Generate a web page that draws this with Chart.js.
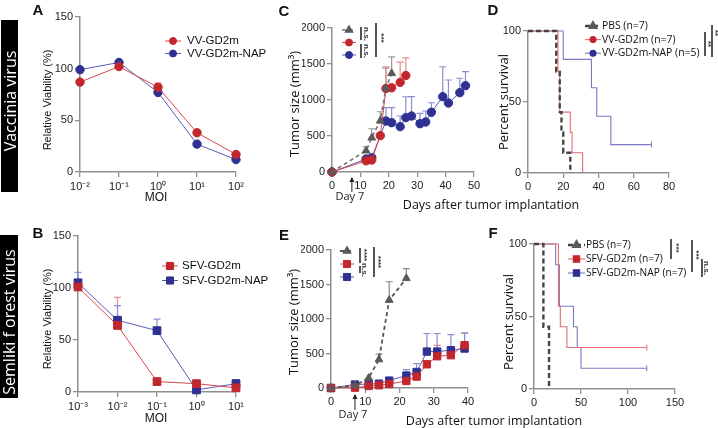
<!DOCTYPE html>
<html>
<head>
<meta charset="utf-8">
<script src="https://cdn.jsdelivr.net/npm/chart.js@4.4.1/dist/chart.umd.min.js"></script>
<style>
body{margin:0;background:#fff;width:718px;height:428px;position:relative;overflow:hidden;font-family:'Liberation Sans',Arial,sans-serif;color:#111;}
canvas{position:absolute;left:0;top:0;}
.t{position:absolute;white-space:nowrap;transform:translate(-50%,-50%);line-height:1;}
.up{transform:translate(-50%,-50%) rotate(-90deg);}
.down{transform:translate(-50%,-50%) rotate(90deg);}
.letter{font-weight:bold;font-size:15px;}
.myr{font-family:'Open Sans',sans-serif;}
.box{position:absolute;background:#000;}
.bar{position:absolute;width:1.5px;background:#555;}
.sig{font-size:8px;font-weight:bold;color:#333;}
</style>
</head>
<body>
<script>
'use strict';

// ---- data ----
// panel A, viability vs MOI (vaccinia)
const moiA = [0.01, 0.1, 1, 10, 100];
const vvA = [87, 102, 82, 38, 17];
const vvErrA = [0, 0, 4, 0, 0];
const vvNapA = [99, 106, 77, 27, 12];
const vvNapErrA = [0, 0, 0, 0, 0];

// panel B, viability vs MOI (SFV)
const moiB = [0.001, 0.01, 0.1, 1, 10];
const sfvB = [101, 64, 10, 8, 4];
const sfvErrB = [7, 27, 0, 0, 0];
const sfvNapB = [105, 69, 59, 2, 8];
const sfvNapErrB = [10, 14, 11, 0, 4];

// panel C, tumor size (vaccinia)
const pbsDaysC = [0, 12, 14, 17, 19, 21];
const pbsC = [0, 296, 476, 712, 1162, 1370];
const pbsErrC = [0, 55, 125, 125, 280, 230];
const vvDaysC = [0, 12, 14, 17, 19, 21, 24, 26];
const vvC = [0, 155, 167, 505, 1160, 1170, 1245, 1340];
const vvErrC = [0, 20, 20, 40, 300, 0, 280, 245];
const napDaysC = [0, 12, 14, 19, 21, 24, 26, 28, 31, 33, 35, 39, 41, 45, 47];
const napC = [0, 180, 200, 708, 685, 630, 755, 778, 671, 695, 830, 1046, 958, 1102, 1199];
const napErrC = [0, 30, 30, 185, 208, 148, 290, 268, 144, 152, 132, 416, 320, 200, 194];

// panel D, survival (vaccinia)
const pbsTimeD = [0, 16, 18, 19, 20, 24];
const pbsSurvD = [100, 71.4, 42.9, 28.6, 14.3, 0];
const vvTimeD = [0, 17, 18, 24, 25, 31];
const vvSurvD = [100, 71.4, 42.9, 28.6, 14.3, 0];
const napTimeD = [0, 20, 36, 39, 47, 70];
const napSurvD = [100, 80, 60, 40, 20, 20];

// panel E, tumor size (SFV)
const pbsDaysE = [0, 7, 11, 14, 17, 22];
const pbsE = [0, 35, 145, 412, 1274, 1589];
const pbsErrE = [0, 0, 0, 78, 266, 141];
const sfvDaysE = [0, 7, 11, 14, 17, 22, 25, 28, 31, 35, 39];
const sfvE = [0, 5, 30, 40, 58, 102, 165, 344, 460, 475, 620];
const sfvErrE = [0, 0, 0, 0, 0, 0, 0, 0, 158, 0, 170];
const napDaysE = [0, 7, 11, 14, 17, 22, 25, 28, 31, 35, 39];
const napE = [0, 50, 58, 63, 107, 180, 232, 528, 528, 548, 572];
const napErrE = [0, 0, 0, 0, 0, 87, 122, 262, 262, 227, 228];

// panel F, survival (SFV)
const pbsTimeF = [0, 10, 16];
const pbsSurvF = [100, 42.9, 0];
const sfvTimeF = [0, 26, 28, 35, 120];
const sfvSurvF = [100, 57.1, 42.9, 28.6, 28.6];
const napTimeF = [0, 23, 27, 42, 46, 50, 120];
const napSurvF = [100, 85.7, 57.1, 42.9, 28.6, 14.3, 14.3];

// ---- colours ----
const redDot = '#c1272d';
const redLine = '#d8474d';
const redErr = '#e98b8f';
const blueDot = '#2e3192';
const blueLine = '#5b5bb6';
const blueErr = '#8d8dd2';
const grey = '#5a5a5a';
const axisColor = '#8f8f8f';
const kmRed = '#e46c6e';
const kmBlue = '#7a7ac6';

const tickFont = {family: "'Liberation Sans', Arial, sans-serif", size: 11};

function pts(xs, ys) {
  return xs.map((x, i) => ({x: x, y: ys[i]}));
}

const supMap = {'-': '\u207B', '0': '\u2070', '1': '\u00B9', '2': '\u00B2', '3': '\u00B3'};
function powLabel(v) {
  const e = Math.round(Math.log10(v));
  return '10' + String(e).split('').map(c => supMap[c]).join('');
}

// draws the upward error bars under the markers
const errorBars = {
  id: 'errorBars',
  beforeDatasetsDraw(chart) {
    const ctx = chart.ctx;
    const ys = chart.scales.y;
    chart.data.datasets.forEach((ds, i) => {
      if (!ds.errorBars) return;
      const meta = chart.getDatasetMeta(i);
      ctx.save();
      ctx.strokeStyle = ds.errorColor;
      ctx.lineWidth = 1.2;
      meta.data.forEach((p, j) => {
        const e = ds.errorBars[j];
        if (!e) return;
        const top = ys.getPixelForValue(ds.data[j].y + e);
        ctx.beginPath();
        ctx.moveTo(p.x, p.y);
        ctx.lineTo(p.x, top);
        ctx.moveTo(p.x - 3.5, top);
        ctx.lineTo(p.x + 3.5, top);
        ctx.stroke();
      });
      ctx.restore();
    });
  }
};

// small legend drawn next to the plot
const miniKey = {
  id: 'miniKey',
  afterDatasetsDraw(chart, args, opts) {
    if (!opts.rows) return;
    const ctx = chart.ctx;
    opts.rows.forEach((row, k) => {
      const ds = chart.data.datasets[row.ds];
      const y = opts.y + k * opts.gap;
      ctx.save();
      ctx.strokeStyle = ds.borderColor;
      ctx.lineWidth = ds.borderWidth;
      ctx.setLineDash(ds.borderDash || []);
      ctx.beginPath();
      ctx.moveTo(opts.x, y);
      ctx.lineTo(opts.x + opts.len, y);
      ctx.stroke();
      ctx.setLineDash([]);
      ctx.fillStyle = row.mark;
      ctx.strokeStyle = row.mark;
      Chart.helpers.drawPoint(ctx, {pointStyle: row.style, radius: row.r, rotation: 0, borderWidth: 1},
        opts.x + opts.len / 2, y);
      if (row.text) {
        ctx.fillStyle = '#111';
        ctx.font = opts.font;
        ctx.textBaseline = 'middle';
        ctx.fillText(row.text, opts.x + opts.len + opts.pad, y);
      }
      ctx.restore();
    });
  }
};

// "Day 7" arrow under the x axis
const dayArrow = {
  id: 'dayArrow',
  afterDraw(chart, args, opts) {
    if (opts.day === undefined) return;
    const ctx = chart.ctx;
    const x = chart.scales.x.getPixelForValue(opts.day);
    const b = chart.chartArea.bottom;
    ctx.save();
    ctx.strokeStyle = '#222';
    ctx.fillStyle = '#222';
    ctx.lineWidth = 1;
    ctx.beginPath();
    ctx.moveTo(x, b + opts.from);
    ctx.lineTo(x, b + opts.to);
    ctx.stroke();
    ctx.beginPath();
    ctx.moveTo(x, b + opts.from - 1);
    ctx.lineTo(x - 2.5, b + opts.from + 4);
    ctx.lineTo(x + 2.5, b + opts.from + 4);
    ctx.closePath();
    ctx.fill();
    ctx.font = "11px 'Open Sans', sans-serif";
    ctx.textAlign = 'center';
    ctx.textBaseline = 'middle';
    ctx.fillText('Day 7', x - 2, b + opts.label);
    ctx.restore();
  }
};

function linAxis(min, max, step, isY) {
  return {
    type: 'linear', min: min, max: max,
    ticks: {stepSize: step, color: '#222', font: tickFont, padding: 2, autoSkip: false, maxRotation: 0,
      callback: v => String(v)},
    grid: {drawOnChartArea: false, tickLength: 5, color: axisColor, lineWidth: 1.3},
    border: {color: axisColor, width: 1.5},
    afterFit: isY ? (s => { s.width = 30; }) : (s => { s.height = 20; })
  };
}

function logAxis(vals) {
  const a = linAxis(vals[0], vals[vals.length - 1], 1, false);
  a.type = 'logarithmic';
  a.ticks = {color: '#222', font: tickFont, padding: 3, autoSkip: false, maxRotation: 0, callback: v => powLabel(v)};
  a.afterBuildTicks = s => { s.ticks = vals.map(v => ({value: v})); };
  return a;
}

function lineSet(xs, ys, o) {
  return Object.assign({
    data: pts(xs, ys), showLine: true, fill: false, clip: false,
    borderWidth: 1, pointBorderWidth: 1, tension: 0
  }, o);
}

function makeChart(pad, datasets, x, y, plugins) {
  const c = document.createElement('canvas');
  c.width = 718;
  c.height = 428;
  document.body.appendChild(c);
  return new Chart(c, {
    type: 'scatter',
    data: {datasets: datasets},
    options: {
      responsive: false, animation: false, devicePixelRatio: 1,
      layout: {padding: pad},
      scales: {x: x, y: y},
      plugins: Object.assign({legend: {display: false}, tooltip: {enabled: false}}, plugins)
    },
    plugins: [errorBars, miniKey, dayArrow]
  });
}

// panel A
makeChart({left: 50, right: 482, top: 17, bottom: 236}, [
  lineSet(moiA, vvA, {borderColor: redLine, pointBackgroundColor: redDot, pointBorderColor: redDot, pointRadius: 4.2, errorBars: vvErrA, errorColor: redErr}),
  lineSet(moiA, vvNapA, {borderColor: blueLine, pointBackgroundColor: blueDot, pointBorderColor: blueDot, pointRadius: 4.2, errorBars: vvNapErrA, errorColor: blueErr})
], logAxis(moiA), linAxis(0, 150, 50, true), {
  miniKey: {x: 165, y: 41, gap: 12.5, len: 16, pad: 6, font: "11.5px 'Liberation Sans', Arial, sans-serif",
    rows: [{ds: 0, mark: redDot, style: 'circle', r: 3.5, text: 'VV-GD2m'}, {ds: 1, mark: blueDot, style: 'circle', r: 3.5, text: 'VV-GD2m-NAP'}]}
});

// panel B
makeChart({left: 48, right: 482, top: 236, bottom: 16}, [
  lineSet(moiB, sfvB, {borderColor: redLine, pointBackgroundColor: redDot, pointBorderColor: redDot, pointStyle: 'rect', pointRadius: 5.5, errorBars: sfvErrB, errorColor: redErr}),
  lineSet(moiB, sfvNapB, {borderColor: blueLine, pointBackgroundColor: blueDot, pointBorderColor: blueDot, pointStyle: 'rect', pointRadius: 5.5, errorBars: sfvNapErrB, errorColor: blueErr})
], logAxis(moiB), linAxis(0, 150, 50, true), {
  miniKey: {x: 162, y: 266, gap: 14.5, len: 16, pad: 4, font: "11.5px 'Liberation Sans', Arial, sans-serif",
    rows: [{ds: 0, mark: redDot, style: 'rect', r: 5, text: 'SFV-GD2m'}, {ds: 1, mark: blueDot, style: 'rect', r: 5, text: 'SFV-GD2m-NAP'}]}
});

// panel C
makeChart({left: 302, right: 244, top: 28, bottom: 236}, [
  lineSet(pbsDaysC, pbsC, {borderColor: '#777', borderDash: [4, 3], borderWidth: 1.6, pointBackgroundColor: grey, pointBorderColor: grey, pointStyle: 'triangle', pointRadius: 4.5, errorBars: pbsErrC, errorColor: '#999'}),
  lineSet(vvDaysC, vvC, {borderColor: redLine, pointBackgroundColor: redDot, pointBorderColor: redDot, pointRadius: 4.2, errorBars: vvErrC, errorColor: redErr}),
  lineSet(napDaysC, napC, {borderColor: blueLine, pointBackgroundColor: blueDot, pointBorderColor: blueDot, pointRadius: 4.2, errorBars: napErrC, errorColor: blueErr})
], linAxis(0, 50, 10, false), linAxis(0, 2000, 500, true), {
  miniKey: {x: 342, y: 30, gap: 12.5, len: 14, pad: 4, font: '11px sans-serif',
    rows: [{ds: 0, mark: grey, style: 'triangle', r: 3.8}, {ds: 1, mark: redDot, style: 'circle', r: 3.5}, {ds: 2, mark: blueDot, style: 'circle', r: 3.5}]},
  dayArrow: {day: 7, from: 6, to: 20, label: 25}
});

// panel D
makeChart({left: 498, right: 49, top: 31, bottom: 235}, [
  lineSet(pbsTimeD, pbsSurvD, {borderColor: '#444', borderDash: [5, 3], borderWidth: 2.4, stepped: 'before', pointRadius: 0}),
  lineSet(vvTimeD, vvSurvD, {borderColor: kmRed, borderWidth: 1.1, stepped: 'before', pointRadius: 0}),
  lineSet(napTimeD, napSurvD, {borderColor: kmBlue, borderWidth: 1.1, stepped: 'before', pointRadius: [0, 0, 0, 0, 0, 3], pointStyle: 'line', rotation: 90, pointBorderColor: kmBlue})
], linAxis(0, 80, 20, false), linAxis(0, 100, 50, true), {
  miniKey: {x: 585, y: 26, gap: 13.6, len: 16, pad: 1, font: "10.4px 'Open Sans', sans-serif",
    rows: [{ds: 0, mark: grey, style: 'triangle', r: 3.5, text: 'PBS (n=7)'}, {ds: 1, mark: redDot, style: 'circle', r: 3, text: 'VV-GD2m (n=7)'}, {ds: 2, mark: blueDot, style: 'circle', r: 3, text: 'VV-GD2m-NAP (n=5)'}]}
});

// panel E
makeChart({left: 301, right: 250, top: 250, bottom: 20}, [
  lineSet(pbsDaysE, pbsE, {borderColor: '#555', borderDash: [4, 3], borderWidth: 1.8, pointBackgroundColor: grey, pointBorderColor: grey, pointStyle: 'triangle', pointRadius: 4.5, errorBars: pbsErrE, errorColor: '#888'}),
  lineSet(sfvDaysE, sfvE, {borderColor: redLine, pointBackgroundColor: redDot, pointBorderColor: redDot, pointStyle: 'rect', pointRadius: 5.2, errorBars: sfvErrE, errorColor: redErr}),
  lineSet(napDaysE, napE, {borderColor: blueLine, pointBackgroundColor: blueDot, pointBorderColor: blueDot, pointStyle: 'rect', pointRadius: 5.2, errorBars: napErrE, errorColor: blueErr})
], linAxis(0, 40, 10, false), linAxis(0, 2000, 500, true), {
  miniKey: {x: 340, y: 251, gap: 13, len: 14, pad: 4, font: '11px sans-serif',
    rows: [{ds: 0, mark: grey, style: 'triangle', r: 3.8}, {ds: 1, mark: redDot, style: 'rect', r: 5}, {ds: 2, mark: blueDot, style: 'rect', r: 5}]},
  dayArrow: {day: 7, from: 7, to: 22, label: 27}
});

// panel F
makeChart({left: 504, right: 43, top: 244, bottom: 19}, [
  lineSet(pbsTimeF, pbsSurvF, {borderColor: '#444', borderDash: [5, 3], borderWidth: 2.4, stepped: 'before', pointRadius: 0}),
  lineSet(sfvTimeF, sfvSurvF, {borderColor: kmRed, borderWidth: 1.1, stepped: 'before', pointRadius: [0, 0, 0, 0, 3], pointStyle: 'line', rotation: 90, pointBorderColor: kmRed}),
  lineSet(napTimeF, napSurvF, {borderColor: kmBlue, borderWidth: 1.1, stepped: 'before', pointRadius: [0, 0, 0, 0, 0, 0, 3], pointStyle: 'line', rotation: 90, pointBorderColor: kmBlue})
], linAxis(0, 150, 50, false), linAxis(0, 100, 50, true), {
  miniKey: {x: 568, y: 245, gap: 14, len: 17, pad: 1, font: "10.2px 'Open Sans', sans-serif",
    rows: [{ds: 0, mark: grey, style: 'triangle', r: 3.5, text: 'PBS (n=7)'}, {ds: 1, mark: redDot, style: 'rect', r: 4.5, text: 'SFV-GD2m (n=7)'}, {ds: 2, mark: blueDot, style: 'rect', r: 4.5, text: 'SFV-GD2m-NAP (n=7)'}]}
});

// ---- text around the plots ----
function label(text, x, y, cls, style) {
  const d = document.createElement('div');
  d.className = 't ' + (cls || '');
  d.textContent = text;
  d.style.left = x + 'px';
  d.style.top = y + 'px';
  if (style) d.style.cssText += style;
  document.body.appendChild(d);
  return d;
}
function box(x, y, w, h) {
  const d = document.createElement('div');
  d.className = 'box';
  d.style.cssText = `left:${x}px;top:${y}px;width:${w}px;height:${h}px;`;
  document.body.appendChild(d);
}
function bar(x, y1, y2) {
  const d = document.createElement('div');
  d.className = 'bar';
  d.style.cssText = `left:${x}px;top:${y1}px;height:${y2 - y1}px;`;
  document.body.appendChild(d);
}

box(1, 20, 17, 172);
label('Vaccinia virus', 10, 101, 'up myr', 'color:#fff;font-size:16px;');
box(0, 235, 18, 163);
label('Semliki f orest virus', 9, 322, 'up myr', 'color:#fff;font-size:16px;');

label('A', 38, 9, 'letter');
label('B', 38, 232, 'letter');
label('C', 284, 10, 'letter');
label('D', 493, 9, 'letter');
label('E', 284, 234, 'letter');
label('F', 493, 232, 'letter');

label('Relative Viability (%)', 47, 100, 'up', 'font-size:11px;');
label('Relative Viability (%)', 47, 319, 'up', 'font-size:11px;');
label('MOI', 156, 197, '', 'font-size:12px;');
label('MOI', 156, 418, '', 'font-size:12px;');
label('Tumor size (mm\u00B3)', 294, 104, 'up myr', 'font-size:13px;');
label('Tumor size (mm\u00B3)', 293, 322, 'up myr', 'font-size:13px;');
label('Percent survival', 503, 102, 'up myr', 'font-size:13px;');
label('Percent survival', 508, 322, 'up myr', 'font-size:13px;');
label('Days after tumor implantation', 491, 205, 'myr', 'font-size:12.5px;');
label('Days after tumor implantation', 494, 421, 'myr', 'font-size:12.5px;');

// significance marks
bar(360, 27, 40); label('n.s.', 366, 34, 'down sig');
bar(360, 44, 58); label('n.s.', 366, 51, 'down sig');
bar(375, 23, 57); label('***', 381, 38, 'down sig');

bar(704, 32, 56); label('**', 708, 44, 'down sig');
bar(711, 25, 57); label('**', 715, 33, 'down sig');

bar(359, 248, 263); label('****', 364, 255, 'down sig');
bar(359, 266, 273); label('n.s.', 364, 270, 'down sig');
bar(373, 247, 277); label('****', 378, 262, 'down sig');

bar(670, 239, 259); label('***', 676, 248, 'down sig');
bar(691, 240, 272); label('***', 696, 255, 'down sig');
bar(701, 259, 277); label('n.s.', 706, 268, 'down sig');
</script>
</body>
</html>
